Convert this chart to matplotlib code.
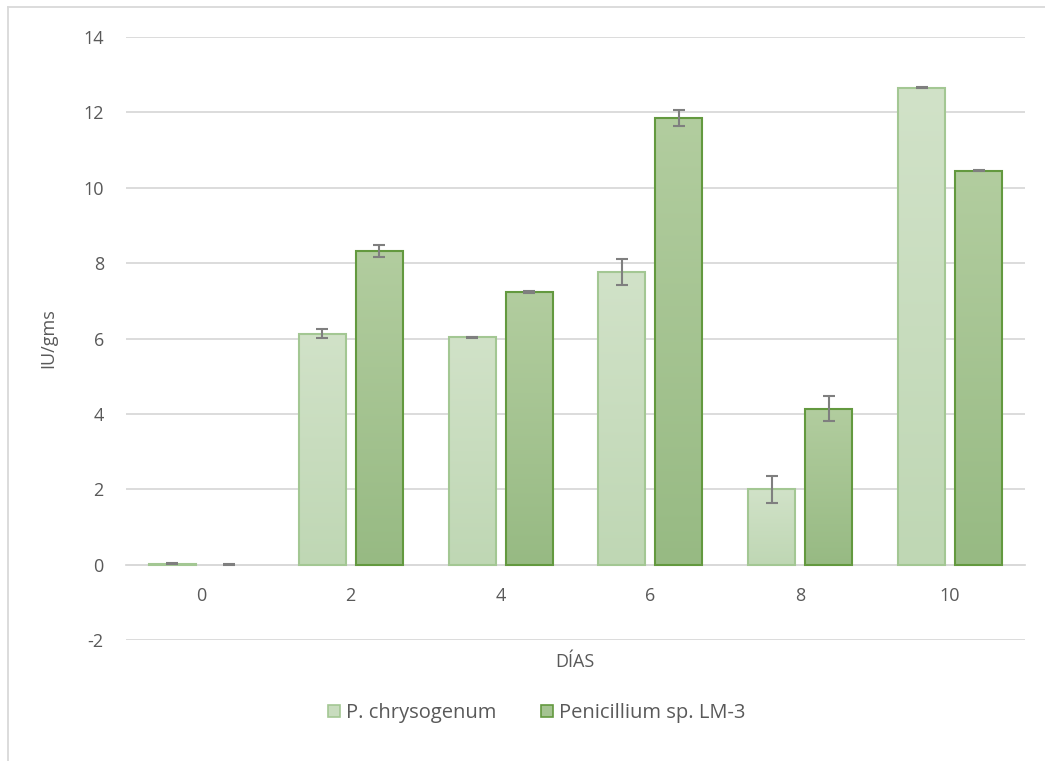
import numpy as np
import matplotlib
matplotlib.use("Agg")
import matplotlib.pyplot as plt
from matplotlib.colors import LinearSegmentedColormap
from matplotlib.lines import Line2D
from matplotlib.patches import Patch

# data
dias = ["0", "2", "4", "6", "8", "10"]
chryso = [0.02, 6.13, 6.03, 7.77, 2.00, 12.66]
chryso_err = [0.01, 0.12, 0.02, 0.34, 0.36, 0.01]
lm3 = [0.0, 8.32, 7.23, 11.85, 4.14, 10.45]
lm3_err = [0.01, 0.16, 0.02, 0.21, 0.33, 0.01]

series_names = ["P. chrysogenum", "Penicillium sp. LM-3"]

plt.rcParams['font.family'] = ['Open Sans', 'DejaVu Sans']
plt.rcParams['axes.unicode_minus'] = False
text_col = "#595959"
grid_col = "#d9d9d9"

fig = plt.figure(figsize=(10.45, 7.61), dpi=100)
ax = fig.add_axes([126 / 1045, 1 - 640 / 761, 899 / 1045, 603 / 761])

x = np.arange(len(dias))
w = 0.314
off = 0.19

light_cmap = LinearSegmentedColormap.from_list("lt", ["#bfd7b4", "#d1e2c8"])
dark_cmap = LinearSegmentedColormap.from_list("dk", ["#97ba83", "#b2cd9f"])
grad = np.linspace(0, 1, 256).reshape(-1, 1)

def gradient_bars(xpos, vals, errs, cmap, edge):
    bars = ax.bar(xpos, vals, w, facecolor="none", edgecolor=edge, linewidth=1.5, zorder=3)
    for b in bars:
        x0, y0 = b.get_x(), b.get_y()
        bw, bh = b.get_width(), b.get_height()
        if bh <= 0:
            b.set_visible(False)
            continue
        im = ax.imshow(grad, cmap=cmap, aspect="auto", origin="lower",
                       extent=[x0, x0 + bw, y0, y0 + bh], zorder=2)
        im.set_clip_path(b)
    ax.errorbar(xpos, vals, yerr=errs, fmt="none", ecolor="#7f7f7f",
                elinewidth=1.5, capsize=4.5, capthick=1.5, zorder=4)

gradient_bars(x - off, chryso, chryso_err, light_cmap, "#a3c793")
gradient_bars(x + off, lm3, lm3_err, dark_cmap, "#63993f")

ax.set_xlim(-0.5, len(dias) - 0.5)
ax.set_ylim(-2, 14)
ax.set_yticks(np.arange(-2, 15, 2))
ax.yaxis.grid(True, color=grid_col, linewidth=1.3)
ax.set_axisbelow(True)

for s in ["top", "right", "left"]:
    ax.spines[s].set_visible(False)
ax.spines["bottom"].set_position(("data", 0))
ax.spines["bottom"].set_color(grid_col)
ax.spines["bottom"].set_linewidth(1.3)

ax.set_xticks(x)
ax.set_xticklabels(dias)
ax.tick_params(axis="both", length=0, labelsize=13, labelcolor=text_col)
ax.tick_params(axis="y", pad=16)
ax.tick_params(axis="x", pad=16)

ax.set_ylabel("IU/gms", fontsize=13, color=text_col, labelpad=19)
fig.text(575 / 1045, 1 - 662 / 761, "DÍAS", fontsize=13, color=text_col,
         ha="center", va="center")

handles = [Patch(facecolor="#c8dcbe", edgecolor="#a3c793", linewidth=1.2),
           Patch(facecolor="#a5c492", edgecolor="#63993f", linewidth=1.2)]
fig.legend(handles, series_names, loc="center", bbox_to_anchor=(537 / 1045, 1 - 713 / 761),
           ncol=2, frameon=False, fontsize=14.5, labelcolor=text_col,
           handlelength=0.6, handleheight=0.6, handletextpad=0.3, columnspacing=2.2)

# chart area border (left and top edges visible)
fig.add_artist(Line2D([8 / 1045, 8 / 1045], [0, 1 - 7 / 761], color=grid_col, linewidth=1.3,
                      transform=fig.transFigure))
fig.add_artist(Line2D([8 / 1045, 1], [1 - 7 / 761, 1 - 7 / 761], color=grid_col, linewidth=1.3,
                      transform=fig.transFigure))

fig.savefig("out.png", dpi=100)
